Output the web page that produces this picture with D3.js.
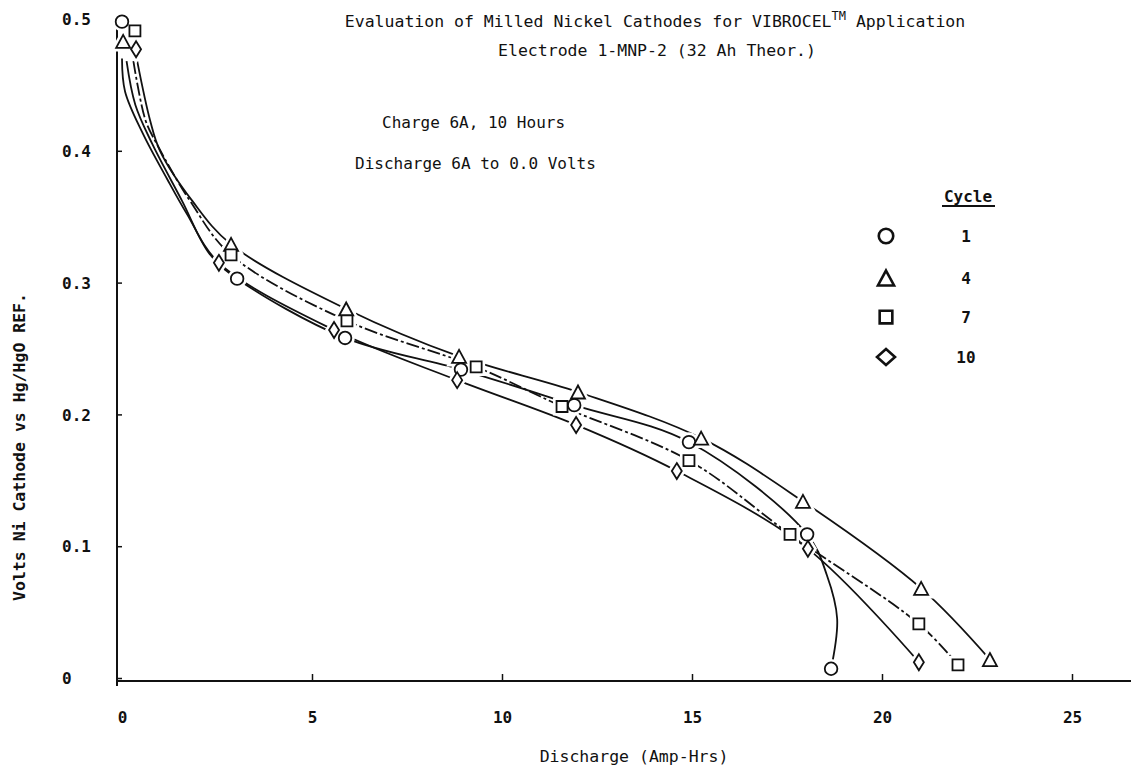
<!DOCTYPE html>
<html>
<head>
<meta charset="utf-8">
<script src="https://cdn.jsdelivr.net/npm/d3@7"></script>
<style>
  html, body { margin: 0; padding: 0; background: #fff; }
  svg { display: block; }
  text { font-family: "DejaVu Sans Mono", "Liberation Mono", monospace; fill: #111; }
</style>
</head>
<body>
<svg id="chart" width="1131" height="774"></svg>
<script>
// Discharge curves, Ni cathode 1-MNP-2, four cycles
const cycles = ["1", "4", "7", "10"];
const symbols = ["circle", "triangle", "square", "diamond"];

// measured points (Amp-Hrs, Volts)
const ahCycle1 = [0.0, 3.03, 5.87, 8.92, 11.9, 14.92, 18.03, 18.66];
const vCycle1  = [0.498, 0.303, 0.258, 0.234, 0.207, 0.179, 0.109, 0.007];
const ahCycle4 = [0.03, 2.87, 5.9, 8.87, 12.0, 15.24, 17.92, 21.03, 22.84];
const vCycle4  = [0.483, 0.329, 0.280, 0.244, 0.217, 0.182, 0.134, 0.068, 0.014];
const ahCycle7 = [0.34, 2.87, 5.92, 9.32, 11.58, 14.92, 17.58, 20.97, 22.0];
const vCycle7  = [0.491, 0.321, 0.271, 0.236, 0.206, 0.165, 0.109, 0.041, 0.010];
const ahCycle10 = [0.37, 2.55, 5.58, 8.82, 11.95, 14.6, 18.05, 20.97];
const vCycle10  = [0.477, 0.315, 0.264, 0.226, 0.192, 0.157, 0.098, 0.012];

// hand-faired curves drawn through the points (Amp-Hrs, Volts), in drawing order
const curveCycle1 = [[0.12,0.468],[0.35,0.435],[0.8,0.405],[1.58,0.362],[2.3,0.322],[3.03,0.303],[5.87,0.258],[8.92,0.234],[11.9,0.207],[14.92,0.179],[18.03,0.109],[18.55,0.078],[18.82,0.045],[18.66,0.007]];
const curveCycle4 = [[0.4,0.468],[0.74,0.423],[1.0,0.40],[1.85,0.362],[2.87,0.329],[5.9,0.280],[8.87,0.244],[12.0,0.217],[15.24,0.182],[17.92,0.134],[21.03,0.068],[22.84,0.014]];
const curveCycle7 = [[0.3,0.468],[0.62,0.423],[0.92,0.405],[1.79,0.362],[2.87,0.321],[5.92,0.271],[9.32,0.236],[11.58,0.206],[14.92,0.165],[17.58,0.109],[20.97,0.041],[22.0,0.010]];
const curveCycle10 = [[0.0,0.47],[0.08,0.445],[0.55,0.413],[1.18,0.379],[1.71,0.352],[2.55,0.315],[5.58,0.264],[8.82,0.226],[11.95,0.192],[14.6,0.157],[18.05,0.098],[20.97,0.012]];

const xTicks = [0, 5, 10, 15, 20, 25];
const xTickLabels = ["0", "5", "10", "15", "20", "25"];
const yTicks = [0, 0.1, 0.2, 0.3, 0.4, 0.5];
const yTickLabels = ["0", "0.1", "0.2", "0.3", "0.4", "0.5"];

const series = [
  { cycle: cycles[0], sym: symbols[0], ah: ahCycle1, v: vCycle1, curve: curveCycle1, dash: null },
  { cycle: cycles[1], sym: symbols[1], ah: ahCycle4, v: vCycle4, curve: curveCycle4, dash: null },
  { cycle: cycles[2], sym: symbols[2], ah: ahCycle7, v: vCycle7, curve: curveCycle7, dash: "13,3,3,3" },
  { cycle: cycles[3], sym: symbols[3], ah: ahCycle10, v: vCycle10, curve: curveCycle10, dash: null }
];

const svg = d3.select("#chart");
const axisX0 = 117;           // y axis line position
const x = d3.scaleLinear().domain([0, 25]).range([122, 1072]);
const y = d3.scaleLinear().domain([0, 0.5]).range([678, 19]);

// ---- axes ----
const yAxis = d3.axisLeft(y)
  .tickValues(yTicks)
  .tickFormat((d, i) => yTickLabels[i])
  .tickSize(-5)
  .tickSizeOuter(0);
const gy = svg.append("g").attr("transform", `translate(${axisX0},0)`).call(yAxis);
gy.select(".domain").attr("stroke", "#111").attr("stroke-width", 2)
  .attr("d", `M0,${y(0.5)}V${y(0) + 8}`);
gy.selectAll(".tick line").attr("stroke", "#111").attr("stroke-width", 1.5);
gy.selectAll(".tick text")
  .attr("text-anchor", "start").attr("x", -55).attr("dy", "0.35em")
  .style("font-size", "16px").style("font-weight", "bold").attr("fill", "#111");

const xAxis = d3.axisBottom(x)
  .tickValues(xTicks)
  .tickFormat((d, i) => xTickLabels[i])
  .tickSize(-7)
  .tickSizeOuter(0);
const gx = svg.append("g").attr("transform", `translate(0,${y(0) + 3})`).call(xAxis);
gx.select(".domain").attr("stroke", "#111").attr("stroke-width", 2.2)
  .attr("d", `M${axisX0},0H1131`);
gx.selectAll(".tick line").attr("stroke", "#111").attr("stroke-width", 1.5)
  .attr("display", d => d === 0 ? "none" : null);
gx.selectAll(".tick text")
  .attr("y", 36).attr("dy", "0.35em")
  .style("font-size", "16px").style("font-weight", "bold").attr("fill", "#111");

// ---- curves ----
const line = d3.line()
  .x(d => x(d[0])).y(d => y(d[1]))
  .curve(d3.curveCatmullRom.alpha(0.5));

svg.append("g").selectAll("path.curve")
  .data(series).join("path")
  .attr("class", "curve")
  .attr("d", s => line(s.curve))
  .attr("fill", "none")
  .attr("stroke", "#111")
  .attr("stroke-width", 1.8)
  .attr("stroke-dasharray", s => s.dash);

// ---- markers ----
function markerPath(sym, k) {
  k = k || 1;
  switch (sym) {
    case "circle": {
      const r = 6.3 * k;
      return `M${r},0A${r},${r} 0 1,1 ${-r},0A${r},${r} 0 1,1 ${r},0Z`;
    }
    case "triangle": {
      const w = 7 * k, h = 6.5 * k;
      return `M0,${-h}L${w},${h}L${-w},${h}Z`;
    }
    case "square": {
      const s = 5.5 * k;
      return `M${-s},${-s}H${s}V${s}H${-s}Z`;
    }
    default: {
      const w = 5 * k, h = 8 * k;
      return `M0,${-h}L${w},0L0,${h}L${-w},0Z`;
    }
  }
}

const pts = series.flatMap(s => s.ah.map((a, i) => ({ sym: s.sym, a, v: s.v[i] })));
const gm = svg.append("g");
// white halo so the lines stop short of each marker
gm.selectAll("path.halo").data(pts).join("path")
  .attr("class", "halo")
  .attr("transform", d => `translate(${x(d.a)},${y(d.v)})`)
  .attr("d", d => markerPath(d.sym))
  .attr("fill", "#fff").attr("stroke", "#fff").attr("stroke-width", 7);
gm.selectAll("path.mark").data(pts).join("path")
  .attr("class", "mark")
  .attr("transform", d => `translate(${x(d.a)},${y(d.v)})`)
  .attr("d", d => markerPath(d.sym))
  .attr("fill", "#fff").attr("stroke", "#111").attr("stroke-width", 1.8);

// ---- legend ----
const legend = svg.append("g");
legend.append("text").attr("x", 968).attr("y", 196).attr("dy", "0.35em")
  .attr("text-anchor", "middle").style("font-size", "16px").style("font-weight", "bold")
  .text("Cycle");
legend.append("line").attr("x1", 942).attr("x2", 995).attr("y1", 206).attr("y2", 206)
  .attr("stroke", "#111").attr("stroke-width", 2);
const legendRows = [236, 278, 317, 357];
series.forEach((s, i) => {
  legend.append("path")
    .attr("transform", `translate(886,${legendRows[i]})`)
    .attr("d", markerPath(s.sym, s.sym === "diamond" ? 1.0 : 1.15))
    .attr("d", s.sym === "diamond"
      ? "M0,-8L9,0L0,8L-9,0Z"
      : markerPath(s.sym, 1.15))
    .attr("fill", "#fff").attr("stroke", "#111").attr("stroke-width", 2.6);
  legend.append("text").attr("x", 966).attr("y", legendRows[i]).attr("dy", "0.35em")
    .attr("text-anchor", "middle").style("font-size", "16px").style("font-weight", "bold")
    .text(s.cycle);
});

// ---- titles and notes ----
const t1 = svg.append("text").attr("x", 655).attr("y", 27).attr("text-anchor", "middle")
  .style("font-size", "16.5px");
t1.append("tspan").text("Evaluation of Milled Nickel Cathodes for VIBROCEL");
t1.append("tspan").attr("dy", -7).style("font-size", "12px").text("TM");
t1.append("tspan").attr("dy", 7).text(" Application");

svg.append("text").attr("x", 657).attr("y", 56).attr("text-anchor", "middle")
  .style("font-size", "16.5px").text("Electrode 1-MNP-2 (32 Ah Theor.)");
svg.append("text").attr("x", 382).attr("y", 128)
  .style("font-size", "16px").text("Charge 6A, 10 Hours");
svg.append("text").attr("x", 355).attr("y", 169)
  .style("font-size", "16px").text("Discharge 6A to 0.0 Volts");

// axis titles
svg.append("text").attr("x", 634).attr("y", 762).attr("text-anchor", "middle")
  .style("font-size", "16.5px").text("Discharge (Amp-Hrs)");
svg.append("text")
  .attr("transform", "translate(25,447) rotate(-90)")
  .attr("text-anchor", "middle").style("font-size", "16.5px").style("font-weight", "bold")
  .text("Volts Ni Cathode vs Hg/HgO REF.");
</script>
</body>
</html>
